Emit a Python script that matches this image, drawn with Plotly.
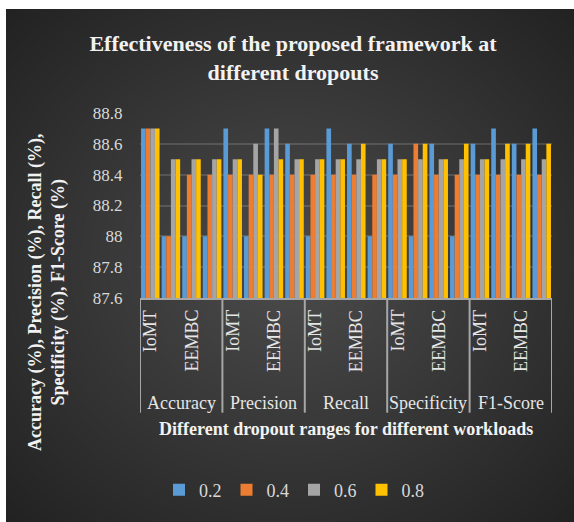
import base64, struct, zlib
import numpy as np
import plotly.graph_objects as go

# ---------------- data ----------------
metrics = ["Accuracy", "Precision", "Recall", "Specificity", "F1-Score"]
sub_labels = ["IoMT", "", "EEMBC", ""]          # hidden (skipped) labels left empty
dropouts = ["0.2", "0.4", "0.6", "0.8"]

vals_02 = [88.7, 88.0, 88.0, 88.0,  88.7, 88.0, 88.7, 88.6,  88.0, 88.7, 88.6, 88.0,
           88.6, 88.0, 88.6, 88.0,  88.6, 88.7, 88.6, 88.7]
vals_04 = [88.7, 88.0, 88.4, 88.4,  88.4, 88.4, 88.4, 88.4,  88.4, 88.4, 88.4, 88.4,
           88.4, 88.6, 88.4, 88.4,  88.4, 88.4, 88.4, 88.4]
vals_06 = [88.7, 88.5, 88.5, 88.5,  88.5, 88.6, 88.7, 88.5,  88.5, 88.5, 88.5, 88.5,
           88.5, 88.5, 88.5, 88.5,  88.5, 88.5, 88.5, 88.5]
vals_08 = [88.7, 88.5, 88.5, 88.5,  88.5, 88.4, 88.5, 88.5,  88.5, 88.5, 88.6, 88.5,
           88.5, 88.6, 88.5, 88.6,  88.5, 88.6, 88.6, 88.6]
series = [vals_02, vals_04, vals_06, vals_08]
colors = ["#5b9bd5", "#ed7d31", "#a5a5a5", "#ffc000"]

y_ticks = [87.6, 87.8, 88.0, 88.2, 88.4, 88.6, 88.8]
y_tick_text = ["87.6", "87.8", "88", "88.2", "88.4", "88.6", "88.8"]

n_sub = len(sub_labels)
x_pos = list(range(len(metrics) * n_sub))

SERIF = "Liberation Serif, Times New Roman, serif"

# ---------------- background gradient (radial) ----------------
W, H = 568, 513
yy, xx = np.mgrid[0:H, 0:W]
cx, cy = 285, 255
d = np.sqrt(((xx - cx) / W) ** 2 + ((yy - cy) / H) ** 2)
t = np.clip(d / d.max(), 0, 1)
c = (76 - (76 - 34) * t).astype(np.uint8)
img = np.stack([c, c, c], axis=-1)
raw = b"".join(b"\x00" + img[r].tobytes() for r in range(H))
def chunk(tag, data):
    return struct.pack(">I", len(data)) + tag + data + struct.pack(">I", zlib.crc32(tag + data) & 0xffffffff)
png = (b"\x89PNG\r\n\x1a\n" + chunk(b"IHDR", struct.pack(">IIBBBBB", W, H, 8, 2, 0, 0, 0))
       + chunk(b"IDAT", zlib.compress(raw, 9)) + chunk(b"IEND", b""))
bg_uri = "data:image/png;base64," + base64.b64encode(png).decode()

# ---------------- figure ----------------
fig = go.Figure()
for name, vals, col in zip(dropouts, series, colors):
    fig.add_trace(go.Bar(x=x_pos, y=vals, name=name, marker=dict(color=col, line=dict(width=0))))

L, R, T, B = 140, 22, 113, 224
PW, PH = 574 - L - R, 522 - T - B

annotations = []
# sub-category labels (rotated)
for m in range(len(metrics)):
    for j, lab in enumerate(sub_labels):
        if lab:
            annotations.append(dict(x=m * n_sub + j, y=0, xref="x", yref="paper", text=lab,
                                    textangle=-90, showarrow=False, xanchor="center", yanchor="top",
                                    yshift=-10, font=dict(family=SERIF, size=18, color="#e6e6e6")))
    annotations.append(dict(x=m * n_sub + (n_sub - 1) / 2, y=0, xref="x", yref="paper", text=metrics[m],
                            showarrow=False, xanchor="center", yanchor="middle", yshift=-105,
                            font=dict(family=SERIF, size=18, color="#e6e6e6")))
# axis titles
annotations.append(dict(x=(346 - L) / PW, y=(T + PH - 429) / PH, xref="paper", yref="paper",
                        text="<b>Different dropout ranges for different workloads</b>", showarrow=False,
                        xanchor="center", yanchor="middle",
                        font=dict(family=SERIF, size=18, color="#f2f2f2")))
annotations.append(dict(x=(47 - L) / PW, y=(T + PH - 292) / PH, xref="paper", yref="paper",
                        text="<b>Accuracy (%), Precision (%), Recall (%),<br>Specificity (%), F1-Score (%)</b>",
                        showarrow=False, textangle=-90, xanchor="center", yanchor="middle",
                        font=dict(family=SERIF, size=18, color="#f2f2f2")))

shapes = []
for k in range(len(metrics) + 1):
    xs = k * n_sub - 0.5
    shapes.append(dict(type="line", xref="x", yref="paper", x0=xs, x1=xs, y0=0, y1=-0.62,
                       line=dict(color="#a6a6a6", width=2), layer="above"))

fig.update_layout(
    width=574, height=522,
    margin=dict(l=L, r=R, t=T, b=B),
    paper_bgcolor="white", plot_bgcolor="rgba(0,0,0,0)",
    barmode="group", bargap=0.1, bargroupgap=0,
    title=dict(text="<b>Effectiveness of the proposed framework at<br>different dropouts</b>",
               x=(293) / 574, xanchor="center", y=1 - 51 / 522, yanchor="middle",
               font=dict(family=SERIF, size=22, color="#f2f2f2")),
    xaxis=dict(range=[-0.5, len(x_pos) - 0.5], showticklabels=False, showgrid=False, zeroline=False,
               showline=True, linecolor="#a6a6a6", linewidth=2, fixedrange=True),
    yaxis=dict(range=[87.6, 88.8], tickvals=y_ticks, ticktext=y_tick_text, showgrid=True,
               gridcolor="rgba(255,255,255,0.14)", gridwidth=2, zeroline=False, showline=False,
               ticks="outside", ticklen=13, tickcolor="rgba(0,0,0,0)",
               tickfont=dict(family=SERIF, size=17, color="#d9d9d9")),
    legend=dict(orientation="h", x=(294 - L) / PW, xanchor="center", y=(T + PH - 490) / PH,
                yanchor="middle", font=dict(family=SERIF, size=18, color="#d9d9d9"),
                bgcolor="rgba(0,0,0,0)", itemwidth=30, traceorder="normal"),
    annotations=annotations, shapes=shapes,
    images=[dict(source=bg_uri, xref="paper", yref="paper", x=(6 - L) / PW, y=1 + (T - 9) / PH,
                 sizex=W / PW, sizey=H / PH, sizing="stretch", xanchor="left", yanchor="top",
                 layer="below")],
    showlegend=True,
)

fig.write_html("out.html")
